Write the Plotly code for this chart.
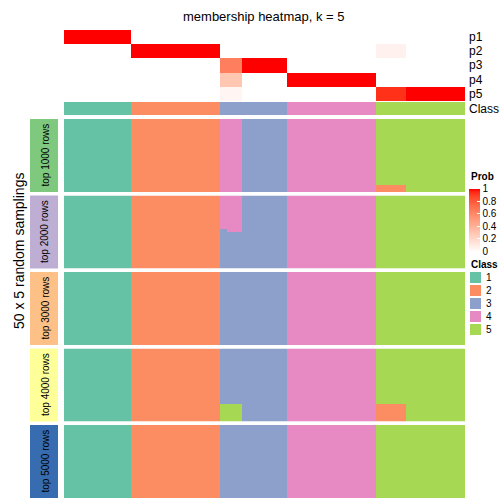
import plotly.graph_objects as go

# ---------------- data ----------------
row_names = ["p1", "p2", "p3", "p4", "p5"]
class_labels = ["1", "2", "3", "4", "5"]
panel_labels = ["top 1000 rows", "top 2000 rows", "top 3000 rows", "top 4000 rows", "top 5000 rows"]

class_row = [1] * 9 + [2] * 12 + [3] * 9 + [4] * 12 + [5] * 12

p1 = [1.0] * 9 + [0.0] * 45
p2 = [0.0] * 9 + [1.0] * 12 + [0.0] * 21 + [0.07] * 4 + [0.0] * 8
p3 = [0.0] * 21 + [0.65] * 3 + [1.0] * 6 + [0.0] * 24
p4 = [0.0] * 21 + [0.30] * 3 + [0.0] * 6 + [1.0] * 12 + [0.0] * 12
p5 = [0.0] * 21 + [0.05] * 3 + [0.0] * 18 + [0.93] * 4 + [1.0] * 8

n_samplings = 50
# (panel, first col, last col, first row, last row, class) deviations from consensus class
deviations = [
    (0, 21, 23, 0, 49, 4),
    (0, 42, 45, 45, 49, 2),
    (1, 21, 21, 0, 22, 4),
    (1, 22, 23, 0, 24, 4),
    (3, 21, 23, 38, 49, 5),
    (3, 42, 45, 38, 49, 2),
]

# ---------------- styles ----------------
class_colors = ["#66C2A5", "#FC8D62", "#8DA0CB", "#E78AC3", "#A6D854"]
panel_colors = ["#7FC97F", "#BEAED4", "#FDC086", "#FFFF99", "#386CB0"]
FONT = "Liberation Sans, Arial, Helvetica, sans-serif"
W = H = 504


def srgb_to_lin(c):
    c = c / 255.0
    return c / 12.92 if c <= 0.04045 else ((c + 0.055) / 1.055) ** 2.4


def lin_to_srgb(c):
    c = max(0.0, min(1.0, c))
    v = 12.92 * c if c <= 0.0031308 else 1.055 * c ** (1 / 2.4) - 0.055
    return int(round(v * 255))


Xn, Yn, Zn = 0.95047, 1.0, 1.08883


def rgb_to_lab(rgb):
    r, g, b = [srgb_to_lin(v) for v in rgb]
    X = 0.4124 * r + 0.3576 * g + 0.1805 * b
    Y = 0.2126 * r + 0.7152 * g + 0.0722 * b
    Z = 0.0193 * r + 0.1192 * g + 0.9505 * b

    def f(t):
        return t ** (1 / 3) if t > 0.008856 else 7.787 * t + 16 / 116

    fx, fy, fz = f(X / Xn), f(Y / Yn), f(Z / Zn)
    return 116 * fy - 16, 500 * (fx - fy), 200 * (fy - fz)


def lab_to_rgb(lab):
    L, a, b = lab
    fy = (L + 16) / 116
    fx = fy + a / 500
    fz = fy - b / 200

    def finv(t):
        return t ** 3 if t ** 3 > 0.008856 else (t - 16 / 116) / 7.787

    X, Y, Z = Xn * finv(fx), Yn * finv(fy), Zn * finv(fz)
    r = 3.2406 * X - 1.5372 * Y - 0.4986 * Z
    g = -0.9689 * X + 1.8758 * Y + 0.0415 * Z
    bb = 0.0557 * X - 0.2040 * Y + 1.0570 * Z
    return lin_to_srgb(r), lin_to_srgb(g), lin_to_srgb(bb)


lab_w = rgb_to_lab((255, 255, 255))
lab_r = rgb_to_lab((255, 0, 0))
prob_scale = []
for i in range(21):
    t = i / 20
    lab = tuple(lab_w[k] + (lab_r[k] - lab_w[k]) * t for k in range(3))
    r, g, b = lab_to_rgb(lab)
    prob_scale.append([t, f"rgb({r},{g},{b})"])

class_scale = []
for k, c in enumerate(class_colors):
    class_scale.append([k / 5, c])
    class_scale.append([(k + 1) / 5, c])

# ---------------- build matrices ----------------
panels = []
for p in range(len(panel_labels)):
    m = [list(class_row) for _ in range(n_samplings)]
    for (pp, c0, c1, r0, r1, cls) in deviations:
        if pp == p:
            for r in range(r0, r1 + 1):
                for c in range(c0, c1 + 1):
                    m[r][c] = cls
    panels.append(m)

ncol = len(class_row)
xs = list(range(ncol))


def py(px):
    return 1 - px / H


fig = go.Figure()

fig.add_trace(go.Heatmap(
    z=[p1, p2, p3, p4, p5], x=xs, y=row_names, xaxis="x", yaxis="y",
    colorscale=prob_scale, zmin=0, zmax=1,
    colorbar=dict(
        x=469 / W, xanchor="left", y=py(220), yanchor="middle",
        len=63 / H, lenmode="fraction", thickness=11, thicknessmode="pixels",
        outlinewidth=0, xpad=0, ypad=0,
        tickvals=[0, 0.2, 0.4, 0.6, 0.8, 1], ticktext=["0", "0.2", "0.4", "0.6", "0.8", "1"],
        ticks="inside", ticklen=3, tickcolor="white",
        tickfont=dict(family=FONT, size=10, color="black"),
    ),
))

fig.add_trace(go.Heatmap(
    z=[class_row], x=xs, y=["Class"], xaxis="x", yaxis="y2",
    colorscale=class_scale, zmin=0.5, zmax=5.5, showscale=False,
))

panel_px = [(119, 192), (195.5, 268.5), (272, 345), (348.5, 421.5), (425, 498)]
for i, m in enumerate(panels):
    fig.add_trace(go.Heatmap(
        z=m, x=xs, y=list(range(n_samplings)), xaxis="x", yaxis=f"y{i + 3}",
        colorscale=class_scale, zmin=0.5, zmax=5.5, showscale=False,
    ))

layout_axes = dict(
    xaxis=dict(domain=[64 / W, 465 / W], range=[-0.5, ncol - 0.5], visible=False, anchor="y"),
    yaxis=dict(domain=[py(101), py(30)], autorange="reversed", visible=False, anchor="x"),
    yaxis2=dict(domain=[py(115), py(102)], visible=False, anchor="x"),
)
for i, (t, b) in enumerate(panel_px):
    layout_axes[f"yaxis{i + 3}"] = dict(domain=[py(b), py(t)], autorange="reversed",
                                         visible=False, anchor="x")

shapes = []
annotations = []
for i, (t, b) in enumerate(panel_px):
    shapes.append(dict(type="rect", xref="paper", yref="paper",
                       x0=30 / W, x1=58 / W, y0=py(b), y1=py(t),
                       fillcolor=panel_colors[i], line=dict(width=0)))
    annotations.append(dict(text=panel_labels[i], x=45 / W, y=py((t + b) / 2),
                            xref="paper", yref="paper", showarrow=False, textangle=-90,
                            xanchor="center", yanchor="middle",
                            font=dict(family=FONT, size=10, color="black")))

# row labels right
row_px = [37, 51, 65, 79.5, 94, 108.5]
for name, ypx in zip(row_names + ["Class"], row_px):
    annotations.append(dict(text=name, x=467 / W, y=py(ypx), xref="paper", yref="paper",
                            xanchor="left", yanchor="middle", showarrow=False,
                            font=dict(family=FONT, size=12, color="black")))

# title & axis label
annotations.append(dict(text="membership heatmap, k = 5", x=264 / W, y=py(17),
                        xref="paper", yref="paper", showarrow=False,
                        xanchor="center", yanchor="middle",
                        font=dict(family=FONT, size=13, color="black")))
annotations.append(dict(text="50 x 5 random samplings", x=19 / W, y=py(251),
                        xref="paper", yref="paper", showarrow=False, textangle=-90,
                        xanchor="center", yanchor="middle",
                        font=dict(family=FONT, size=14, color="black")))

# legend titles
annotations.append(dict(text="<b>Prob</b>", x=469 / W, y=py(176), xref="paper", yref="paper",
                        xanchor="left", yanchor="middle", showarrow=False,
                        font=dict(family=FONT, size=10, color="black")))
annotations.append(dict(text="<b>Class</b>", x=469 / W, y=py(264), xref="paper", yref="paper",
                        xanchor="left", yanchor="middle", showarrow=False,
                        font=dict(family=FONT, size=10, color="black")))
for k, (lab, col) in enumerate(zip(class_labels, class_colors)):
    top = 272 + k * 13
    shapes.append(dict(type="rect", xref="paper", yref="paper",
                       x0=470 / W, x1=481 / W, y0=py(top + 11), y1=py(top),
                       fillcolor=col, line=dict(width=0)))
    annotations.append(dict(text=lab, x=484 / W, y=py(top + 5.5), xref="paper", yref="paper",
                            xanchor="left", yanchor="middle", showarrow=False,
                            font=dict(family=FONT, size=10, color="black")))

fig.update_layout(
    width=W, height=H, margin=dict(l=0, r=0, t=0, b=0),
    paper_bgcolor="white", plot_bgcolor="white",
    shapes=shapes, annotations=annotations, showlegend=False,
    **layout_axes,
)

fig.write_html("out.html", config={"displayModeBar": False})

# remove the default page margin so the 504x504 figure fills the window exactly
with open("out.html", "r", encoding="utf-8") as fh:
    html = fh.read()
html = html.replace("<head>", "<head><style>html,body{margin:0;padding:0;overflow:hidden;}</style>", 1)
with open("out.html", "w", encoding="utf-8") as fh:
    fh.write(html)
